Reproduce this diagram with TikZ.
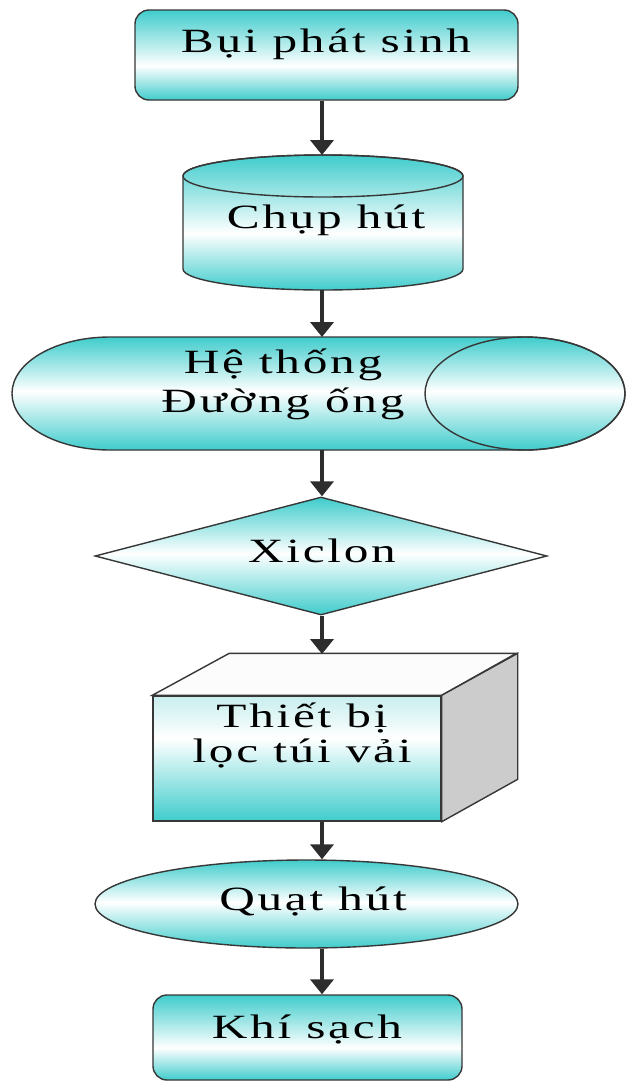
\documentclass[tikz,border=0pt]{standalone}
\usepackage{fontspec}
\newfontfamily\vnfont[FakeStretch=1.45,LetterSpace=8]{Liberation Serif}
\usepackage{tikz}
\usetikzlibrary{arrows.meta,shapes.geometric,calc}

\definecolor{flowcyan}{RGB}{64,204,204}
\definecolor{frontcyan}{RGB}{200,238,238}
\definecolor{edgegray}{RGB}{55,55,55}
\definecolor{arrowgray}{RGB}{45,45,45}
\definecolor{sidegray}{RGB}{204,204,204}
\definecolor{lidwhite}{RGB}{252,252,252}

% cyan -> white -> cyan bands (shape fills the 25bp..75bp part)
\pgfdeclareverticalshading{boxshade}{100bp}{color(0bp)=(flowcyan); color(25bp)=(flowcyan); color(44bp)=(white); color(75bp)=(flowcyan); color(100bp)=(flowcyan)}
\pgfdeclareverticalshading{cylshade}{100bp}{color(0bp)=(flowcyan); color(25bp)=(flowcyan); color(46bp)=(white); color(75bp)=(flowcyan); color(100bp)=(flowcyan)}
\pgfdeclareverticalshading{midshade}{100bp}{color(0bp)=(flowcyan); color(25bp)=(flowcyan); color(51bp)=(white); color(75bp)=(flowcyan); color(100bp)=(flowcyan)}
\pgfdeclareverticalshading{frontshade}{100bp}{color(0bp)=(flowcyan); color(25bp)=(flowcyan); color(58bp)=(white); color(75bp)=(frontcyan); color(100bp)=(frontcyan)}

\tikzset{
  flow/.style={draw=arrowgray, line width=4pt, -{Triangle[width=23pt,length=15pt]}},
  outline/.style={draw=edgegray, line width=1.4pt},
  lbl/.style={font={\vnfont\fontsize{34}{39}\selectfont}, align=center, inner sep=0pt, anchor=base},
}

\begin{document}
\begin{tikzpicture}[x=1pt,y=1pt]
  \path[use as bounding box, fill=white] (0,0) rectangle (626,-1082);
  % Guide line for the arrows
  \coordinate (spine) at (322,0);

  % Start box
  \node[outline, rounded corners=14pt, shade, shading=boxshade, minimum width=383pt, minimum height=90pt, inner sep=0pt] (bui) at (326.5,-55) {};
  \node[lbl] (bui text) at (326,-52) {Bụi phát sinh};

  % Hood
  \draw[outline, shade, shading=cylshade] (183,-176) -- (183,-269)
    arc[start angle=180, end angle=360, x radius=140, y radius=21] -- (463,-176)
    arc[start angle=0, end angle=180, x radius=140, y radius=21] -- cycle;
  \draw[outline] (323,-176) ellipse[x radius=140, y radius=21];
  \coordinate (chup top) at (322,-155);
  \coordinate (chup bottom) at (322,-290);
  \node[lbl] (chup text) at (326,-228) {Chụp hút};

  % Duct (base anchor sits on the last line)
  \draw[outline, shade, shading=midshade] (110,-337) -- (525,-337)
    arc[start angle=90, end angle=-90, x radius=100, y radius=56.5] -- (110,-450)
    arc[start angle=270, end angle=90, x radius=98, y radius=56.5] -- cycle;
  \draw[outline] (525,-393.5) ellipse[x radius=100, y radius=56.5];
  \coordinate (duong top) at (322,-337);
  \coordinate (duong bottom) at (322,-450);
  \node[lbl] (duong text) at (283,-412) {Hệ thống\\Đường ống};

  % Cyclone
  \node[diamond, outline, shade, shading=midshade, minimum width=452pt, minimum height=118pt, inner sep=0pt] (xiclon) at (321,-556) {};
  \node[lbl] (xiclon text) at (322,-562) {Xiclon};

  % Bag filter
  \node[outline, shade, shading=frontshade, minimum width=288pt, minimum height=125pt, inner sep=0pt] (loc) at (297,-758.5) {};
  \draw[outline, fill=lidwhite] (loc.north west) -- ++(77,42) -- ++(287,0) -- (loc.north east) -- cycle;
  \draw[outline, fill=sidegray] (loc.north east) -- ++(76,42) -- ++(0,-126) -- (loc.south east) -- cycle;
  \coordinate (loc top) at (322,-654);
  \node[lbl] (loc text) at (302,-762) {Thiết bị\\[-4pt]lọc túi vải};

  % Fan
  \node[ellipse, outline, shade, shading=midshade, minimum width=423pt, minimum height=88pt, inner sep=0pt] (quat) at (306.5,-904) {};
  \node[lbl] (quat text) at (313,-910) {Quạt hút};

  % Clean air
  \node[outline, rounded corners=14pt, shade, shading=boxshade, minimum width=309pt, minimum height=85pt, inner sep=0pt] (khi) at (307.5,-1037.5) {};
  \node[lbl] (khi text) at (307,-1038) {Khí sạch};

  % Arrows
  \draw[flow] (bui.south -| spine) -- (chup top);
  \draw[flow] (chup bottom) -- (duong top);
  \draw[flow] (duong bottom) -- (xiclon.north -| spine);
  \draw[flow] (xiclon.south -| spine) -- (loc top);
  \draw[flow] (loc.south -| spine) -- (quat.north -| spine);
  \draw[flow] (quat.south -| spine) -- (khi.north -| spine);
\end{tikzpicture}
\end{document}
